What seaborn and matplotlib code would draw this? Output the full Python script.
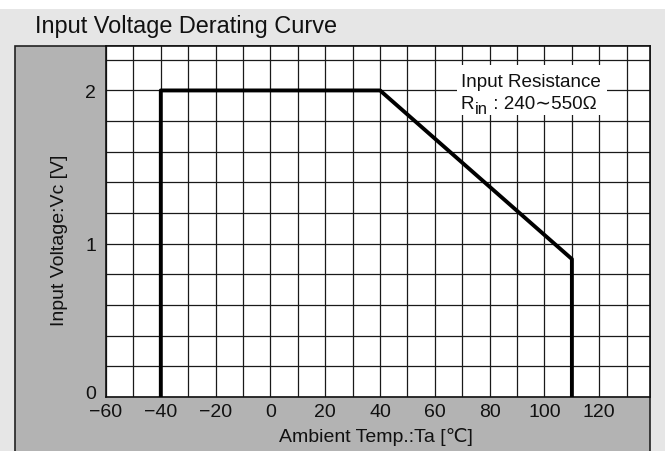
"""Input voltage derating curve, redrawn with seaborn."""

import matplotlib
matplotlib.use("Agg")
import matplotlib.pyplot as plt
import matplotlib.transforms as mtransforms
import numpy as np
import pandas as pd
import seaborn as sns
from matplotlib.patches import Rectangle
from matplotlib.ticker import MultipleLocator

# derating curve corners
temps = [-40, -40, 40, 110, 110]
volts = [0.0, 2.0, 2.0, 0.9, 0.0]

x_ticks = [-60, -40, -20, 0, 20, 40, 60, 80, 100, 120]
y_ticks = [0, 1, 2]

title = "Input Voltage Derating Curve"
x_label = "Ambient Temp.:Ta [\u2103]"
y_label = "Input Voltage:Vc [V]"
note_title = "Input Resistance"
note_sym, note_sub, note_range = "R", "in", " : 240\u223c550\u03a9"

sns.set_style("white")
plt.rcParams["font.family"] = ["Liberation Sans", "DejaVu Sans"]

ink = "#111111"
fig = plt.figure(figsize=(6.65, 4.52), dpi=100, facecolor="white")

# light grey backdrop below the white strip at the top
fig.patches.append(Rectangle((0, 0), 1, 1 - 10 / 452, transform=fig.transFigure,
                             facecolor="#e6e6e6", edgecolor="none", zorder=-2))
# darker panel holding the plot
fig.patches.append(Rectangle((15 / 665, -0.05), (650 - 15) / 665, 0.05 + (452 - 47) / 452,
                             transform=fig.transFigure, facecolor="#b3b3b3",
                             edgecolor="#222222", linewidth=1.2, zorder=-1))

ax = fig.add_axes([106 / 665, (452 - 398) / 452, 544 / 665, 351 / 452])
ax.set_zorder(2)
ax.set_facecolor("white")

df = pd.DataFrame({"temp": temps, "volt": volts})
sns.lineplot(data=df, x="temp", y="volt", sort=False, estimator=None,
             color="black", linewidth=2.8, ax=ax, zorder=3)

ax.set_xlim(-60, 138.5)
ax.set_ylim(0, 2.29)
ax.set_xticks(x_ticks)
ax.set_yticks(y_ticks)
ax.xaxis.set_minor_locator(MultipleLocator(10))
ax.yaxis.set_minor_locator(MultipleLocator(0.2))
ax.tick_params(which="both", length=0, labelsize=14, colors=ink)
ax.tick_params(axis="x", pad=4)
ax.tick_params(axis="y", pad=7)
ax.set_axisbelow(True)
ax.grid(which="both", color="#1a1a1a", linewidth=0.9)
for side in ax.spines.values():
    side.set_color(ink)
    side.set_linewidth(1.2)
ax.set_xlabel("")
ax.set_ylabel("")

# lift the "0" on the y axis so it clears the x labels
fig.canvas.draw()
zero_lbl = ax.get_yticklabels()[0]
zero_lbl.set_transform(zero_lbl.get_transform()
                       + mtransforms.ScaledTranslation(0, 5 / 100, fig.dpi_scale_trans))

# note box in upper right
ax.add_patch(Rectangle((0.645, 0.803), 0.276, 0.143, transform=ax.transAxes,
                       facecolor="white", edgecolor="none", zorder=1.5))
ax.text(0.652, 0.886, note_title, transform=ax.transAxes, fontsize=13.6,
        va="baseline", ha="left", color=ink, zorder=4)
r_txt = ax.text(0.652, 0.823, note_sym, transform=ax.transAxes, fontsize=13.6,
                va="baseline", ha="left", color=ink, zorder=4)
sub_txt = ax.annotate(note_sub, xy=(1, 0), xycoords=r_txt, xytext=(0.5, -3),
                      textcoords="offset points", fontsize=12, va="bottom",
                      ha="left", color=ink, zorder=4)
ax.annotate(note_range, xy=(1, 0), xycoords=(sub_txt, r_txt), xytext=(0, 0),
            textcoords="offset points", fontsize=13.6, va="bottom",
            ha="left", color=ink, zorder=4)

fig.text(35 / 665, 1 - 33 / 452, title, fontsize=16.9, va="baseline", ha="left",
         color=ink)
fig.text(376 / 665, 1 - 437 / 452, x_label, fontsize=14, va="center", ha="center",
         color=ink)
fig.text(59 / 665, 1 - 240 / 452, y_label, fontsize=14, va="center", ha="center",
         rotation=90, color=ink)

fig.savefig("out.png", dpi=100, facecolor=fig.get_facecolor())
